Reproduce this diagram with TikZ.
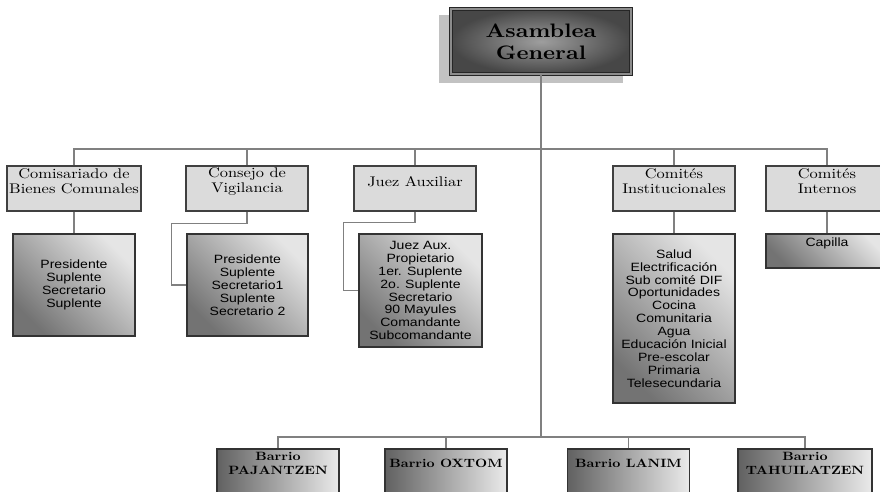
\documentclass[tikz,border=0pt]{standalone}
\usepackage{fontspec}
\setmainfont{lmroman10-regular.otf}[BoldFont=lmroman10-bold.otf, FakeStretch=1.17]
\newfontfamily\listfont{Liberation Sans}[FakeStretch=1.17]
\begin{document}
\begin{tikzpicture}[x=1pt,y=-1pt,
  conn/.style={draw=black!50, line width=1.3pt},
  lvlone/.style={draw=black!75, line width=1.3pt, fill=black!14, minimum height=45pt, inner sep=0pt},
  ttlone/.style={font=\fontsize{14}{15}\selectfont, align=center, inner sep=0pt},
  lvltwo/.style={draw=black!80, line width=1.3pt, bottom color=black!55, top color=black!10, shading angle=-45, inner sep=0pt},
  listtxt/.style={font=\listfont\fontsize{12}{12.9}\selectfont, align=center, inner sep=0pt},
  barrio/.style={draw=black!80, line width=1.3pt, left color=black!62, right color=black!8, minimum height=70pt, inner sep=0pt},
  barriotxt/.style={font=\bfseries\fontsize{12}{14}\selectfont, align=center, inner sep=0pt}
]
\useasboundingbox (0,0) rectangle (880,491);
\clip (0,0) rectangle (880,491);
\fill[white] (0,0) rectangle (880,491);

% Asamblea General
\fill[black!24] (439,15) rectangle (623,83);
\node[draw=black!85, line width=1.4pt, double=black!45, double distance=1.2pt,
      inner color=black!38, outer color=black!72, minimum width=180pt, minimum height=65pt,
      font=\bfseries\fontsize{19.5}{22}\selectfont, align=center] (ag) at (541,41.5) {Asamblea\\General};

% level 1
\node[lvlone, minimum width=134pt] (com) at (74,188.5) {};
\node[lvlone, minimum width=122pt] (con) at (247,188.5) {};
\node[lvlone, minimum width=122pt] (juez) at (415,188.5) {};
\node[lvlone, minimum width=122pt] (ci) at (674,188.5) {};
\node[lvlone, minimum width=122pt] (cint) at (827,188.5) {};
\node[ttlone] (comT) at ([yshift=7pt]com.center) {Comisariado de\\Bienes Comunales};
\node[ttlone] (conT) at ([yshift=7pt]con.center) {Consejo de\\Vigilancia};
\node[ttlone] (juezT) at ([yshift=6.5pt]juez.center) {Juez Auxiliar};
\node[ttlone] (ciT) at ([yshift=7pt]ci.center) {Comités\\Institucionales};
\node[ttlone] (cintT) at ([yshift=7pt]cint.center) {Comités\\Internos};

% level 2
\node[lvltwo, listtxt, minimum width=122pt, minimum height=102pt] (comL) at (74,285) {Presidente\\Suplente\\Secretario\\Suplente};
\node[lvltwo, listtxt, minimum width=121pt, minimum height=102pt] (conL) at (247.5,285) {Presidente\\Suplente\\Secretario1\\Suplente\\Secretario 2};
\node[lvltwo, listtxt, minimum width=123pt, minimum height=113pt] (juezL) at (420.5,290.5) {Juez Aux.\\Propietario\\1er. Suplente\\2o. Suplente\\Secretario\\90 Mayules\\Comandante\\Subcomandante};
\node[lvltwo, listtxt, minimum width=122pt, minimum height=169pt] (ciL) at (674,318.5) {Salud\\Electrificación\\Sub comité DIF\\Oportunidades\\Cocina\\Comunitaria\\Agua\\Educación Inicial\\Pre-escolar\\Primaria\\Telesecundaria};
\node[lvltwo, minimum width=122pt, minimum height=34pt] (cap) at (827,251) {};
\node[listtxt] (capT) at ([yshift=-10pt]cap.north) {Capilla};

% barrios
\node[barrio, minimum width=122pt] (b1) at (278,484) {};
\node[barrio, minimum width=122pt] (b2) at (446,484) {};
\node[barrio, minimum width=122pt] (b3) at (628.5,484) {};
\node[barrio, minimum width=134pt] (b4) at (805,484) {};
\node[barriotxt] (b1t) at ([yshift=-15pt]b1.north) {Barrio\\PAJANTZEN};
\node[barriotxt] (b2t) at ([yshift=-15pt]b2.north) {Barrio OXTOM};
\node[barriotxt] (b3t) at ([yshift=-15pt]b3.north) {Barrio LANIM};
\node[barriotxt] (b4t) at ([yshift=-15pt]b4.north) {Barrio\\TAHUILATZEN};

% connectors
\coordinate (busT) at (541,149);
\coordinate (busB) at (541,437);
\draw[conn] (ag.south) -- (busB);
\draw[conn] (com.north) -- (com.north |- busT) -| (cint.north);
\draw[conn] (con.north) -- (con.north |- busT);
\draw[conn] (juez.north) -- (juez.north |- busT);
\draw[conn] (ci.north) -- (ci.north |- busT);
\draw[conn] (b1.north) -- (b1.north |- busB) -| (b4.north);
\draw[conn] (b2.north) -- (b2.north |- busB);
\draw[conn] (b3.north) -- (b3.north |- busB);
\draw[conn] (com.south) -- (comL.north);
\draw[conn] (ci.south) -- (ciL.north);
\draw[conn] (cint.south) -- (cap.north);
\draw[conn] (con.south) -- ++(0,12) -| ([xshift=-15pt]conL.west) -- (conL.west);
\draw[conn] (juez.south) -- ++(0,11) -| ([xshift=-15pt]juezL.west) -- (juezL.west);
\end{tikzpicture}
\end{document}
